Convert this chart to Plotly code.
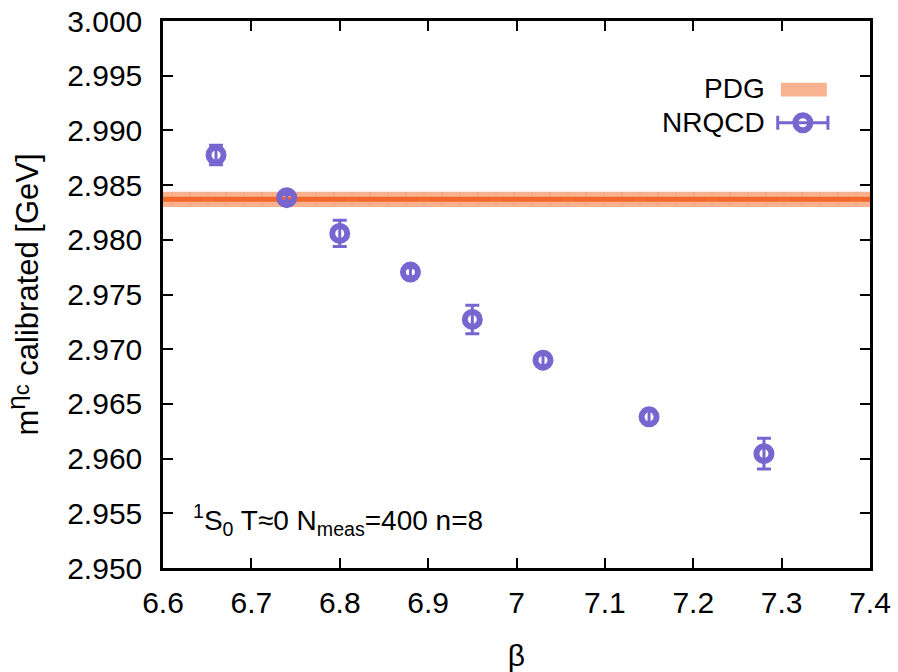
import plotly.graph_objects as go

# NRQCD eta_c mass vs. beta
beta = [6.66, 6.74, 6.80, 6.88, 6.95, 7.03, 7.15, 7.28]
mass = [2.98775, 2.98385, 2.98058, 2.97705, 2.97272, 2.96900, 2.96382, 2.96045]
mass_err = [0.0009, 0.0003, 0.0012, 0.0004, 0.0013, 0.0005, 0.0006, 0.0014]

# PDG reference value and uncertainty
pdg_mass = 2.9837
pdg_err = 0.0007
beta_range = [6.6, 7.4]

x_ticks = [6.6, 6.7, 6.8, 6.9, 7.0, 7.1, 7.2, 7.3, 7.4]
x_tick_text = ["6.6", "6.7", "6.8", "6.9", "7", "7.1", "7.2", "7.3", "7.4"]
y_ticks = [2.950, 2.955, 2.960, 2.965, 2.970, 2.975, 2.980, 2.985, 2.990, 2.995, 3.000]

PURPLE = "#7766cf"
BAND = "#f8b28f"
BAND_LINE = "#f2682a"
FONT = "Arial"
FS = 30

fig = go.Figure()

# PDG band
fig.add_trace(go.Scatter(
    x=beta_range + beta_range[::-1],
    y=[pdg_mass - pdg_err] * 2 + [pdg_mass + pdg_err] * 2,
    fill="toself", fillcolor=BAND, mode="none",
    fillpattern=dict(shape="|", size=18, solidity=0.06, fgcolor="#f4946a", bgcolor=BAND),
    showlegend=False, hoverinfo="skip",
))
fig.add_trace(go.Scatter(
    x=beta_range, y=[pdg_mass, pdg_mass], mode="lines",
    line=dict(color=BAND_LINE, width=5), showlegend=False, hoverinfo="skip",
))

# NRQCD data
fig.add_trace(go.Scatter(
    x=beta, y=mass, mode="markers",
    marker=dict(symbol="circle-open", size=15, color=PURPLE, line=dict(width=6, color=PURPLE)),
    error_y=dict(type="data", array=mass_err, visible=True, color=PURPLE, thickness=3, width=7),
    showlegend=False,
))

# Key samples on an overlay axis spanning the plot area
fig.add_trace(go.Scatter(
    x=[0.905], y=[0.814], xaxis="x2", yaxis="y2", mode="markers",
    marker=dict(symbol="circle-open", size=15, color=PURPLE, line=dict(width=6, color=PURPLE)),
    error_x=dict(type="constant", value=0.0355, visible=True, color=PURPLE, thickness=3, width=7),
    showlegend=False, hoverinfo="skip",
))
fig.add_shape(type="rect", xref="paper", yref="paper",
              x0=0.874, x1=0.939, y0=0.862, y1=0.887,
              fillcolor=BAND, line=dict(width=0))
fig.add_annotation(text="PDG", xref="paper", yref="paper", x=0.855, y=0.876,
                   xanchor="right", yanchor="middle", showarrow=False,
                   font=dict(family=FONT, size=FS - 2, color="black"))
fig.add_annotation(text="NRQCD", xref="paper", yref="paper", x=0.855, y=0.814,
                   xanchor="right", yanchor="middle", showarrow=False,
                   font=dict(family=FONT, size=FS - 2, color="black"))

# Run parameters
fig.add_annotation(text="<sup>1</sup>S<sub>0</sub> T≈0 N<sub>meas</sub>=400 n=8",
                   xref="paper", yref="paper", x=0.040, y=0.088,
                   xanchor="left", yanchor="middle", showarrow=False,
                   font=dict(family=FONT, size=FS - 2, color="black"))

axis_common = dict(
    showline=True, linecolor="black", linewidth=2.5, mirror="ticks",
    ticks="inside", ticklen=10, tickwidth=2, tickcolor="black",
    showgrid=False, zeroline=False, automargin=False,
    tickfont=dict(family=FONT, size=FS, color="black"),
)

y_title = ("m<sup><span style='font-size:26px'>η</span>"
           "<sub><span style='font-size:22px'>c</span></sub></sup> calibrated [GeV]")

fig.update_layout(
    width=898, height=672,
    margin=dict(l=163, r=28, t=21, b=104),
    plot_bgcolor="white", paper_bgcolor="white",
    font=dict(family=FONT, size=FS, color="black"),
    xaxis=dict(range=beta_range, tickvals=x_ticks, ticktext=x_tick_text,
               ticklabelstandoff=6,
               title=dict(text="β", font=dict(family=FONT, size=FS), standoff=30),
               **axis_common),
    yaxis=dict(range=[2.950, 3.000], tickvals=y_ticks, tickformat=".3f",
               ticklabelstandoff=12,
               title=dict(text=y_title, font=dict(family=FONT, size=FS + 1), standoff=20),
               **axis_common),
    xaxis2=dict(overlaying="x", range=[0, 1], visible=False, fixedrange=True),
    yaxis2=dict(overlaying="y", range=[0, 1], visible=False, fixedrange=True),
    showlegend=False,
)

fig.write_html("out.html")
